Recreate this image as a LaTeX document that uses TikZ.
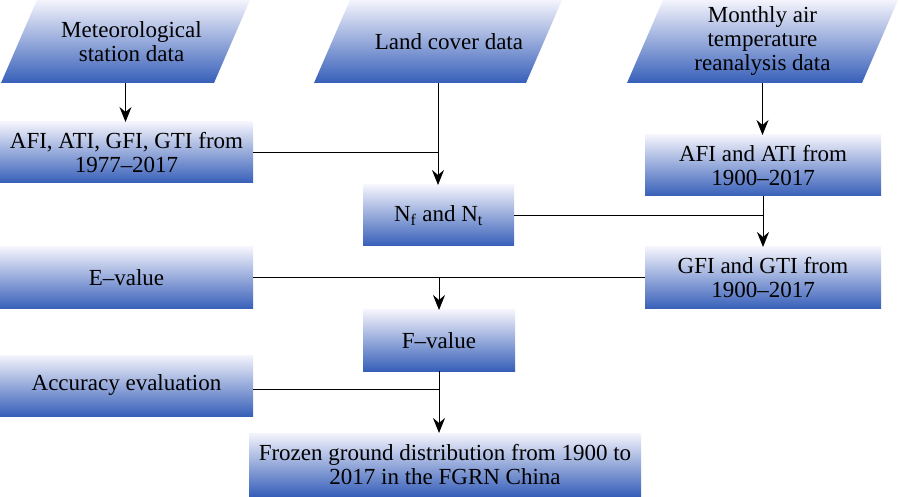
\documentclass[tikz,border=0pt]{standalone}
\usepackage{fontspec}
\setmainfont{Liberation Serif}
\usetikzlibrary{arrows.meta,backgrounds}
\definecolor{topblue}{RGB}{244,244,252}
\definecolor{botblue}{RGB}{55,95,185}
\tikzset{
indata/.style={
	  rectangle, minimum height=83pt, inner sep=0pt, outer sep=0pt, align=center},
procbox/.style={
	  rectangle, top color=topblue, bottom color=botblue, minimum height=61pt,
	  inner sep=0pt, outer sep=0pt, align=center},
flow/.style={-{Stealth[length=15pt,width=12pt,inset=5pt]}}
}

\begin{document}
\begin{tikzpicture}[x=1pt, y=1pt, line width=1pt,
	font=\rmfamily\fontsize{23}{24}\selectfont]
	\useasboundingbox (0,0) rectangle (900,496);
	\node[indata, minimum width=249pt] (met) at (125.5,454.5) {\hspace*{12pt}Meteorological\\\hspace*{12pt}station data};
	\node[indata, minimum width=248pt] (land) at (438,454.5) {\hspace*{22pt}Land cover data};
	\node[indata, minimum width=271pt] (mon) at (762.5,454.5) {Monthly air\\temperature\\reanalysis data};
	\begin{scope}[on background layer]
		\foreach \n in {met,land,mon}
			\shade[top color=topblue, bottom color=botblue] (\n.south west) -- ([xshift=-36pt]\n.south east)
				-- (\n.north east) -- ([xshift=36pt]\n.north west) -- cycle;
	\end{scope}
	\node[procbox, minimum width=253pt] (afi1) at (126.5,343.5) {AFI, ATI, GFI, GTI from\\1977--2017};
	\node[procbox, minimum width=151pt] (nfnt) at (438.5,280.5) {N\textsubscript{f} and N\textsubscript{t}};
	\node[procbox, minimum width=236pt] (afi2) at (763,330.5) {AFI and ATI from\\1900--2017};
	\node[procbox, minimum width=236pt, minimum height=62pt] (gfi) at (763,218) {GFI and GTI from\\1900--2017};
	\node[procbox, minimum width=253pt, minimum height=62pt] (eval) at (126.5,218) {E--value};
	\node[procbox, minimum width=152pt] (fval) at (439,155.5) {F--value};
	\node[procbox, minimum width=253pt] (acc) at (126.5,110.5) {Accuracy evaluation};
	\node[procbox, minimum width=392pt, minimum height=63pt] (frozen) at (445,31.5) {Frozen ground distribution from 1900 to\\2017 in the FGRN China};

	\draw[flow] (met.south) -- (met.south |- afi1.north);
	\draw[flow] (land.south) -- (land.south |- nfnt.north);
	\draw (afi1.east) -- (afi1.east -| land.south);
	\draw[flow] (mon.south) -- (mon.south |- afi2.north);
	\draw[flow] (afi2.south) -- (gfi.north);
	\draw (nfnt.east) -- (nfnt.east -| afi2.south);
	\draw (eval.east) -- (gfi.west);
	\draw[flow] (eval.east -| fval.north) -- (fval.north);
	\draw[flow] (fval.south) -- (fval.south |- frozen.north);
	\draw ([yshift=-4pt]acc.east) -- ([yshift=-4pt]acc.east -| fval.south);
\end{tikzpicture}
\end{document}
